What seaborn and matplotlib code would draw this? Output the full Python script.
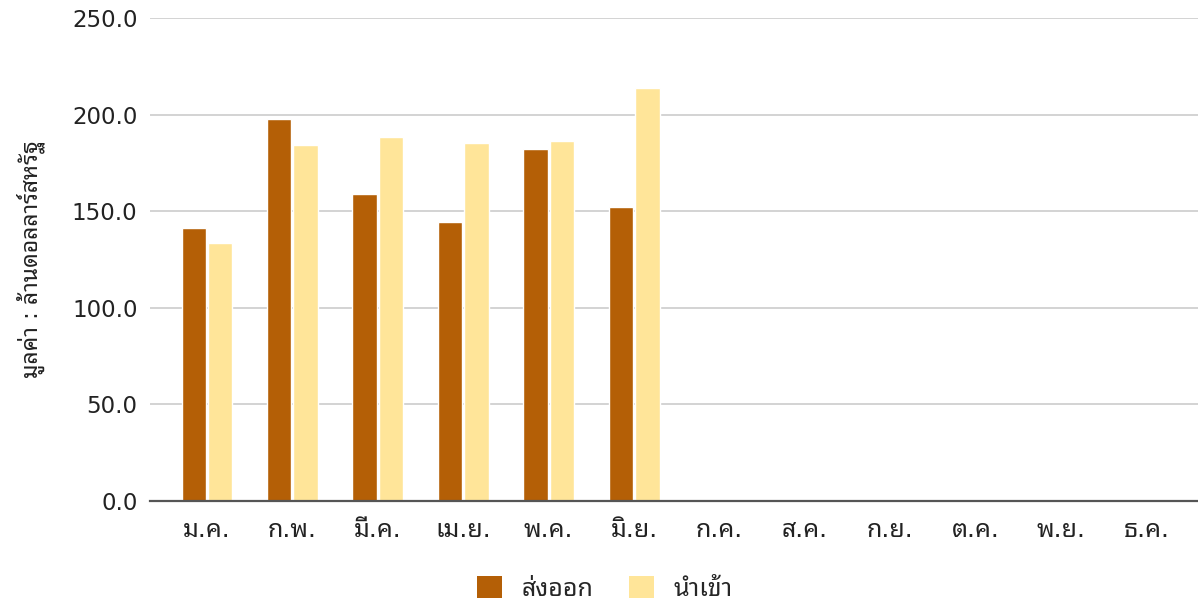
import matplotlib
matplotlib.use("Agg")
import matplotlib.pyplot as plt
from matplotlib.patches import Patch
import seaborn as sns
import pandas as pd

months = ["ม.ค.", "ก.พ.", "มี.ค.", "เม.ย.", "พ.ค.", "มิ.ย.",
          "ก.ค.", "ส.ค.", "ก.ย.", "ต.ค.", "พ.ย.", "ธ.ค."]
data_months = months[:6]
export_vals = [141.1, 197.5, 158.9, 144.4, 182.0, 152.2]
import_vals = [133.4, 184.1, 188.4, 185.5, 186.3, 213.8]
series = ["ส่งออก", "นำเข้า"]
colors = ["#b45f06", "#ffe599"]
yticks = [0, 50, 100, 150, 200, 250]

df = pd.DataFrame({
    "month": data_months * 2,
    "value": export_vals + import_vals,
    "type": [series[0]] * 6 + [series[1]] * 6,
})

sns.set_style("white")
plt.rcParams["font.family"] = ["DejaVu Sans", "Noto Sans Thai Looped"]

fig = plt.figure(figsize=(11.98, 6.02), dpi=100)
ax = fig.add_axes([0.1252, 0.168, 0.8748, 0.802])

sns.barplot(data=df, x="month", y="value", hue="type", order=months,
            hue_order=series, palette=colors, width=0.62, gap=0.08,
            saturation=1, legend=False, ax=ax)

ax.set_xlim(-0.667, 11.6)
ax.set_ylim(0, 250)
ax.set_yticks(yticks)
ax.set_yticklabels([f"{v:.1f}" for v in yticks], fontsize=16.5, color="#222222")
ax.set_xticks(range(len(months)))
ax.set_xticklabels(months, fontsize=18, color="#222222")
ax.tick_params(axis="both", length=0)
ax.tick_params(axis="y", pad=9)
ax.tick_params(axis="x", pad=12)
ax.yaxis.grid(True, color="#cccccc", linewidth=1.2)
ax.set_axisbelow(True)
for s in ["top", "right", "left"]:
    ax.spines[s].set_visible(False)
ax.spines["bottom"].set_color("#555555")
ax.spines["bottom"].set_linewidth(1.6)
ax.spines["bottom"].set_zorder(5)

ax.set_xlabel("")
ax.set_ylabel("มูลค่า : ล้านดอลลาร์สหรัฐ", fontsize=16.5, color="#222222", labelpad=19)

handles = [Patch(facecolor=c, edgecolor="none") for c in colors]
fig.legend(handles, series, loc="lower center", bbox_to_anchor=(0.505, -0.035),
           ncol=2, frameon=False, fontsize=18, handlelength=1.0, handleheight=1.0,
           columnspacing=1.4, handletextpad=0.8)

fig.savefig("out.png")
